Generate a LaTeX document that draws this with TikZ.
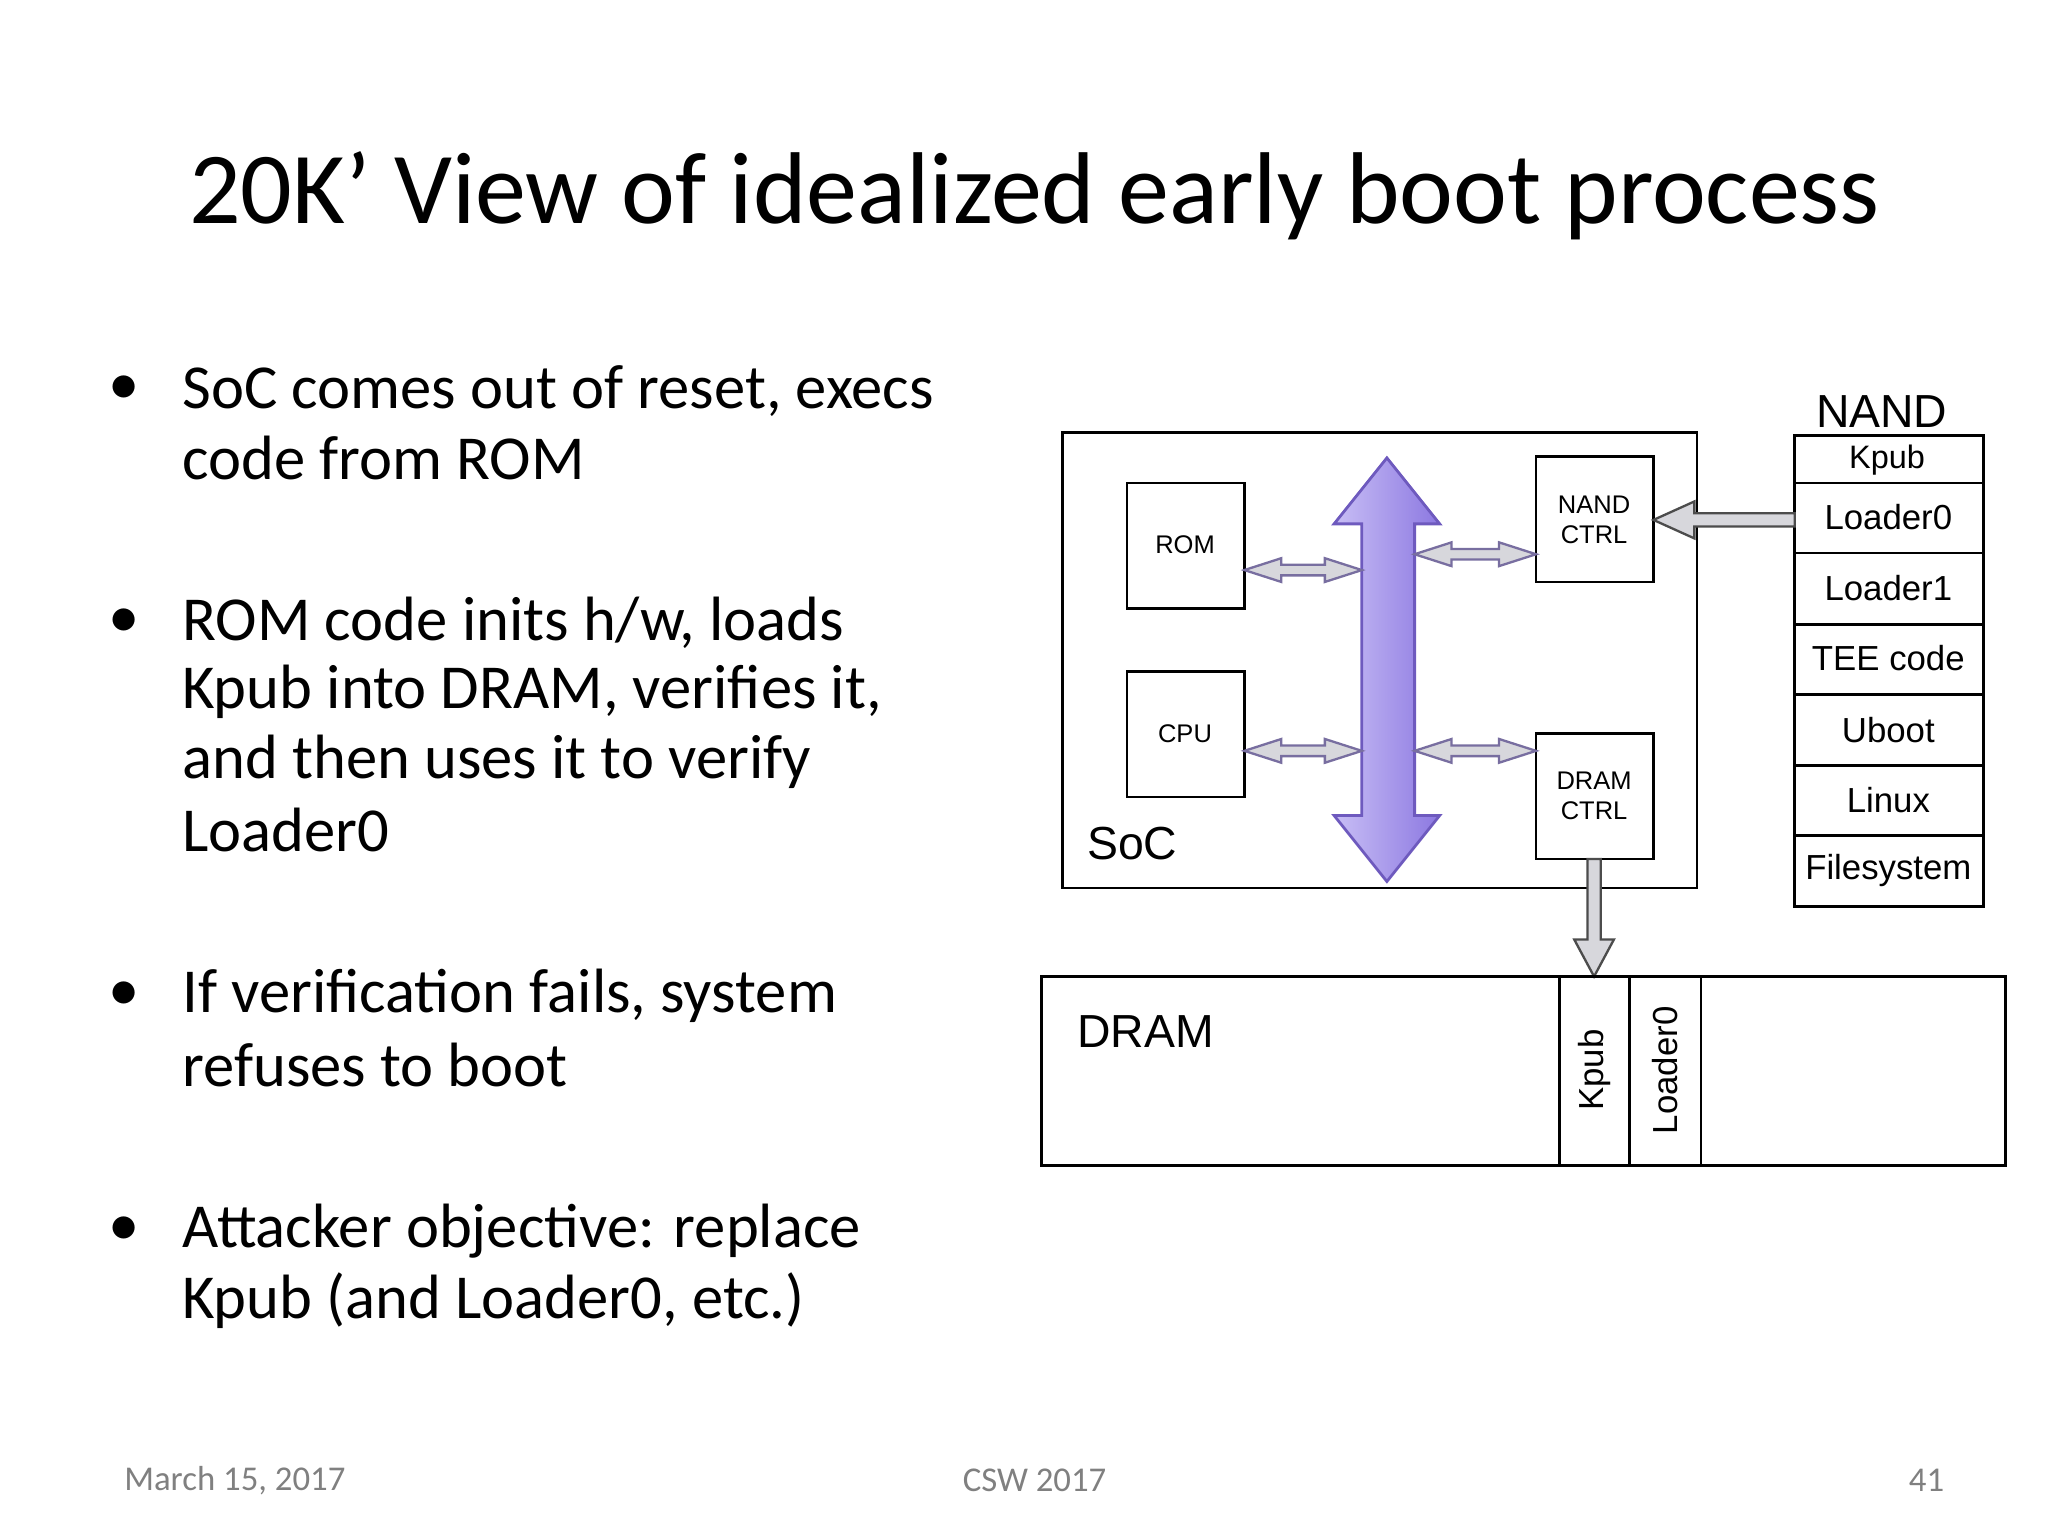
\documentclass[tikz,border=0pt]{standalone}
\usepackage{fontspec}
\setmainfont{Carlito}
\newfontfamily\diag{Liberation Sans}
\definecolor{busL}{RGB}{200,190,245}
\definecolor{busR}{RGB}{140,120,225}
\definecolor{busB}{RGB}{110,90,190}
\definecolor{arrF}{RGB}{215,215,220}
\definecolor{arrB}{RGB}{120,110,160}
\definecolor{foot}{RGB}{128,128,128}
\newcommand{\hdbl}[3]{% x1 x2 y
 \draw[smallarr] (#1,#3) -- (#1+28,#3-9) -- (#1+28,#3-4) -- (#2-28,#3-4) -- (#2-28,#3-9) -- (#2,#3) -- (#2-28,#3+9) -- (#2-28,#3+4) -- (#1+28,#3+4) -- (#1+28,#3+9) -- cycle;}
\begin{document}
\begin{tikzpicture}[x=0.02cm,y=-0.02cm,
  box/.style={draw,line width=1.2pt},
  smallarr/.style={draw=arrB,fill=arrF,line width=1pt,line join=miter},
  flowarr/.style={draw=black!70,fill=arrF,line width=1pt},
  bul/.style={anchor=west,font=\fontsize{27}{32}\selectfont},
  small/.style={font=\diag\fontsize{11}{13}\selectfont,align=center},
  mid/.style={font=\diag\fontsize{15}{18}\selectfont},
  footer/.style={text=foot,font=\fontsize{15}{18}\selectfont}]
\useasboundingbox (0,0) rectangle (1552,1164);
\node (title) at (784,148) {\fontsize{44}{50}\selectfont 20K’ View of idealized early boot process};
% bullets
\foreach \y/\t in {296/{SoC comes out of reset, execs}, 347/{code from ROM},
  472/{ROM code inits h/w, loads}, 524/{Kpub into DRAM, verifies it,}, 577/{and then uses it to verify}, 629/{Loader0},
  755/{If verification fails, system}, 807/{refuses to boot},
  933/{Attacker objective: replace}, 986/{Kpub (and Loader0, etc.)}}
  \node[bul] at (132,\y) {\t};
\foreach \y in {296,472,755,933}
  \node[bul] at (76,\y) {•};
% SoC
\draw[box] (805,328) rectangle (1286,673);
\node[mid,font=\diag\fontsize{20}{22}\selectfont] (soc) at (858,639) {SoC};
\draw[box] (854,366) rectangle (943,461); \node[small] (rom) at (898,413) {ROM};
\draw[box] (854,509) rectangle (943,604); \node[small] (cpu) at (898,556) {CPU};
\draw[box] (1164,346) rectangle (1253,441); \node[small] (nc) at (1208,394) {NAND\\CTRL};
\draw[box] (1164,556) rectangle (1253,651); \node[small] (dc) at (1208,603) {DRAM\\CTRL};
% bus
\draw[busB,line width=1.2pt,left color=busL,right color=busR]
 (1051,347) -- (1091,397) -- (1072,397) -- (1072,618) -- (1091,618) -- (1051,668)
 -- (1011,618) -- (1032,618) -- (1032,397) -- (1011,397) -- cycle;
\hdbl{943}{1032}{432}
\hdbl{943}{1032}{569}
\hdbl{1072}{1164}{420}
\hdbl{1072}{1164}{569}
% NAND
\node[mid,font=\diag\fontsize{20}{22}\selectfont] (nandl) at (1426,312) {NAND};
\draw[box] (1360,330) rectangle (1503,687);
\foreach \y in {366,419,473,526,580,633} \draw[line width=1.2pt] (1360,\y) -- (1503,\y);
\node[mid,font=\diag\fontsize{14}{16}\selectfont] at (1430,349) {Kpub};
\foreach \y/\t in {392/{Loader0},446/{Loader1},499/{TEE code},553/{Uboot},606/{Linux},660/{Filesystem}}
  \node[mid] at (1431,\y) {\t};
% flow arrows
\draw[flowarr] (1253,394) -- (1284,380) -- (1284,389) -- (1360,389) -- (1360,399) -- (1284,399) -- (1284,408) -- cycle;
\draw[flowarr] (1208,740) -- (1193,712) -- (1203,712) -- (1203,651) -- (1213,651) -- (1213,712) -- (1223,712) -- cycle;
% DRAM
\draw[box] (789,740) rectangle (1520,883);
\foreach \x in {1182,1235,1289} \draw[line width=1.2pt] (\x,740) -- (\x,883);
\node[mid,font=\diag\fontsize{20}{22}\selectfont] (dram) at (868,782) {DRAM};
\node[mid,rotate=90] at (1208,811) {Kpub};
\node[mid,rotate=90] at (1262,811) {Loader0};
% footer
\node[footer] at (178,1122) {March 15, 2017};
\node[footer] at (784,1122) {CSW 2017};
\node[footer] at (1460,1122) {41};
\end{tikzpicture}
\end{document}
